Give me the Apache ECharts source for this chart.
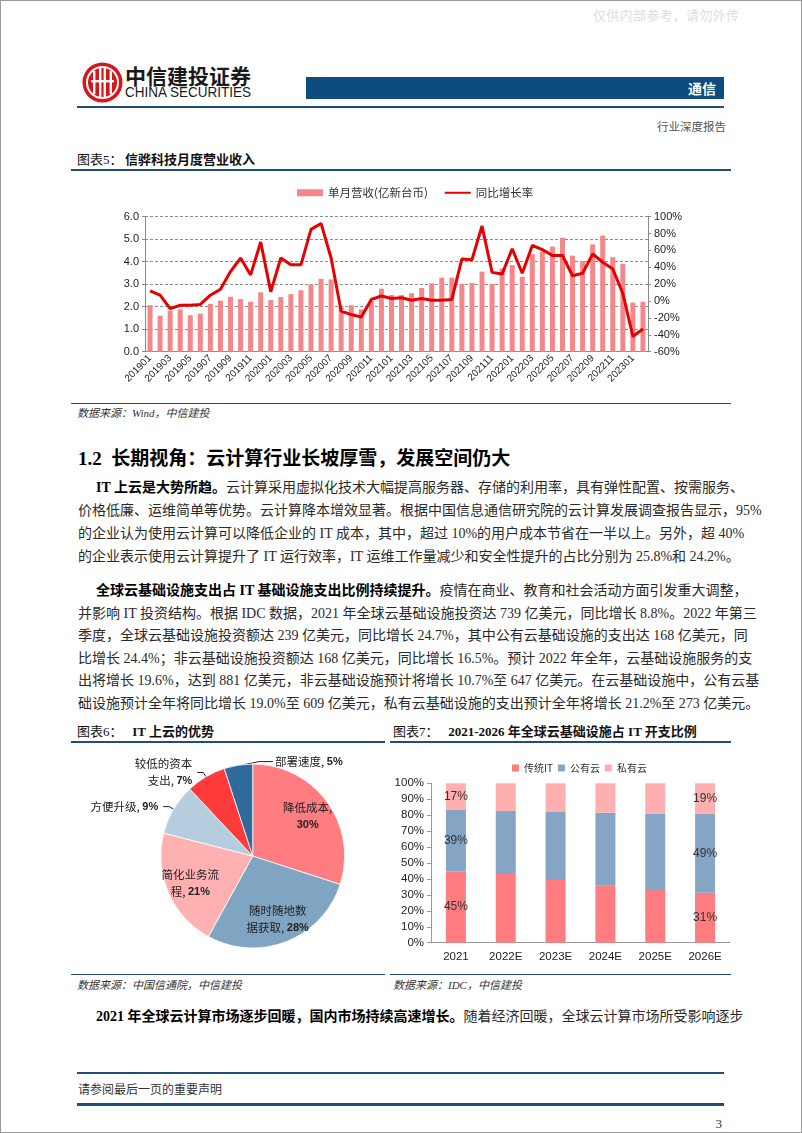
<!DOCTYPE html>
<html>
<head>
<meta charset="utf-8">
<script src="https://cdn.jsdelivr.net/npm/echarts@6/dist/echarts.min.js"></script>
<style>
html,body{margin:0;padding:0;background:#fff;}
#page{position:relative;width:802px;height:1133px;overflow:hidden;background:#fff;font-family:"Liberation Serif","Noto Sans CJK SC",serif;color:#2a2a2a;}
.abs{position:absolute;white-space:nowrap;}
.frame{position:absolute;left:0;top:0;width:802px;height:1133px;box-sizing:border-box;border:1px solid #9a9a9a;z-index:5;pointer-events:none;}
.hl{position:absolute;background:#1f4e79;}
.tl{position:absolute;font-size:13px;line-height:14px;font-weight:bold;color:#111;font-family:"Liberation Serif","Noto Sans CJK SC",serif;}
.tl span{font-weight:normal;}
.src{position:absolute;font-size:11px;line-height:12px;font-style:italic;color:#333;font-family:"Liberation Serif","Noto Sans CJK SC",serif;}
.ln{position:absolute;left:78px;width:644px;font-size:14px;line-height:16px;height:16px;text-align:justify;text-align-last:justify;white-space:nowrap;color:#2a2a2a;}
.ln.first{left:96px;width:626px;}
.ln.last{text-align-last:left;}
.ln b{color:#000;}
#chart{position:absolute;left:0;top:0;width:802px;height:1133px;z-index:3;}
</style>
</head>
<body>
<div id="page">
  <div class="abs" style="left:593px;top:9px;font-size:13px;line-height:14px;color:#dedede;letter-spacing:0.3px;">仅供内部参考，请勿外传</div>

  <svg class="abs" style="left:82px;top:62px;" width="41" height="41" viewBox="0 0 41 41">
    <circle cx="20.5" cy="20.5" r="20" fill="#d7161c"/>
    <circle cx="20.5" cy="20.5" r="15.5" fill="none" stroke="#fff" stroke-width="2"/>
    <rect x="11" y="9" width="2.4" height="23" fill="#fff"/>
    <rect x="17" y="6" width="2.4" height="29" fill="#fff"/>
    <rect x="21.6" y="6" width="2.4" height="29" fill="#fff"/>
    <rect x="27.6" y="9" width="2.4" height="23" fill="#fff"/>
    <rect x="9" y="18" width="23" height="2.4" fill="#fff"/>
  </svg>
  <div class="abs" style="left:125px;top:64px;font-size:21px;line-height:22px;font-weight:bold;color:#1a1a1a;font-family:'Noto Sans CJK SC',sans-serif;">中信建投证券</div>
  <div class="abs" style="left:125px;top:84px;font-size:15px;line-height:16px;color:#1a1a1a;font-family:'Liberation Sans',sans-serif;transform:scaleX(0.9);transform-origin:0 0;">CHINA SECURITIES</div>

  <div class="abs" style="left:306px;top:77px;width:418px;height:22px;background:#0e4c7e;"></div>
  <div class="abs" style="left:600px;top:80px;width:116px;text-align:right;font-size:14px;line-height:16px;font-weight:bold;color:#fff;font-family:'Noto Sans CJK SC',sans-serif;">通信</div>
  <div class="hl" style="left:77px;top:106px;width:647px;height:1.5px;"></div>
  <div class="abs" style="left:657px;top:121px;font-size:11.5px;line-height:12px;color:#555;">行业深度报告</div>

  <div class="tl" style="left:77px;top:153px;"><span>图表5：</span></div>
  <div class="tl" style="left:125px;top:153px;">信骅科技月度营业收入</div>
  <div class="hl" style="left:71px;top:169px;width:660px;height:2px;"></div>
  <div class="hl" style="left:71px;top:403px;width:660px;height:1px;"></div>
  <div class="src" style="left:77px;top:407px;">数据来源：Wind，中信建投</div>

  <div class="abs" style="left:78px;top:449px;font-size:19px;line-height:20px;font-weight:bold;color:#000;">1.2&nbsp; 长期视角：云计算行业长坡厚雪，发展空间仍大</div>

  <div class="ln first" style="top:480px;"><b>IT 上云是大势所趋。</b>云计算采用虚拟化技术大幅提高服务器、存储的利用率，具有弹性配置、按需服务、</div>
  <div class="ln" style="top:503px;">价格低廉、运维简单等优势。云计算降本增效显著。根据中国信息通信研究院的云计算发展调查报告显示，95%</div>
  <div class="ln" style="top:526px;">的企业认为使用云计算可以降低企业的 IT 成本，其中，超过 10%的用户成本节省在一半以上。另外，超 40%</div>
  <div class="ln last" style="top:549px;">的企业表示使用云计算提升了 IT 运行效率，IT 运维工作量减少和安全性提升的占比分别为 25.8%和 24.2%。</div>

  <div class="ln first" style="top:583px;"><b>全球云基础设施支出占 IT 基础设施支出比例持续提升。</b>疫情在商业、教育和社会活动方面引发重大调整，</div>
  <div class="ln" style="top:605.5px;">并影响 IT 投资结构。根据 IDC 数据，2021 年全球云基础设施投资达 739 亿美元，同比增长 8.8%。2022 年第三</div>
  <div class="ln" style="top:628px;">季度，全球云基础设施投资额达 239 亿美元，同比增长 24.7%，其中公有云基础设施的支出达 168 亿美元，同</div>
  <div class="ln" style="top:650.5px;">比增长 24.4%；非云基础设施投资额达 168 亿美元，同比增长 16.5%。预计 2022 年全年，云基础设施服务的支</div>
  <div class="ln" style="top:673px;">出将增长 19.6%，达到 881 亿美元，非云基础设施预计将增长 10.7%至 647 亿美元。在云基础设施中，公有云基</div>
  <div class="ln last" style="top:695.5px;">础设施预计全年将同比增长 19.0%至 609 亿美元，私有云基础设施的支出预计全年将增长 21.2%至 273 亿美元。</div>

  <div class="tl" style="left:77px;top:725px;"><span>图表6：</span>&nbsp;&nbsp; IT 上云的优势</div>
  <div class="tl" style="left:393px;top:725px;"><span>图表7：</span>&nbsp;&nbsp; 2021-2026 年全球云基础设施占 IT 开支比例</div>
  <div class="hl" style="left:71px;top:741px;width:314px;height:2px;"></div>
  <div class="hl" style="left:390px;top:741px;width:341px;height:2px;"></div>
  <div class="hl" style="left:71px;top:974px;width:314px;height:1px;"></div>
  <div class="hl" style="left:390px;top:974px;width:341px;height:1px;"></div>
  <div class="src" style="left:77px;top:979px;">数据来源：中国信通院，中信建投</div>
  <div class="src" style="left:393px;top:979px;">数据来源：IDC，中信建投</div>

  <div class="ln first" style="top:1009px;"><b>2021 年全球云计算市场逐步回暖，国内市场持续高速增长。</b>随着经济回暖，全球云计算市场所受影响逐步</div>

  <div class="hl" style="left:77px;top:1072px;width:647px;height:1.5px;"></div>
  <div class="abs" style="left:78px;top:1084px;font-size:12px;line-height:13px;color:#333;">请参阅最后一页的重要声明</div>
  <div class="hl" style="left:77px;top:1103px;width:647px;height:3px;"></div>
  <div class="abs" style="left:700px;top:1117px;width:22px;text-align:right;font-size:13px;line-height:14px;color:#333;">3</div>

  <div id="chart"></div>
  <div class="frame"></div>
</div>
<script>
// ---- Chart 5: monthly revenue & YoY ----
const months = ['201901','201902','201903','201904','201905','201906','201907','201908','201909','201910','201911','201912',
  '202001','202002','202003','202004','202005','202006','202007','202008','202009','202010','202011','202012',
  '202101','202102','202103','202104','202105','202106','202107','202108','202109','202110','202111','202112',
  '202201','202202','202203','202204','202205','202206','202207','202208','202209','202210','202211','202212',
  '202301','202302'];
const revenue = [2.07,1.60,1.83,1.88,1.62,1.69,2.12,2.27,2.44,2.34,2.22,2.64,
  2.30,2.43,2.56,2.73,3.00,3.24,3.21,2.00,2.07,1.88,2.25,2.80,
  2.52,2.52,2.60,2.83,3.04,3.29,3.29,3.02,3.05,3.56,3.02,3.70,
  3.85,3.33,4.33,4.45,4.67,5.07,4.27,4.03,4.77,5.16,4.20,3.91,
  2.18,2.22];
const yoy = [12,7,-9,-5,-5,-4,7,14,35,51,31,70,
  11,51,43,43,85,92,51,-12,-16,-19,2,6,
  3,4,1,3,1,1,2,50,49,89,34,32,
  62,33,66,61,54,54,30,33,56,46,38,9,
  -42,-33];
const revName = '单月营收(亿新台币)';
const yoyName = '同比增长率';

// ---- Chart 6: advantages of IT on cloud ----
const pieNames = ['降低成本','随时随地数据获取','简化业务流程','方便升级','较低的资本支出','部署速度'];
const pieValues = [30,28,21,9,7,5];
const pieColors = ['#FF7C80','#7FA5C3','#FFB1B1','#B6CCDF','#FF3A3A','#2F6A9A'];
const pieInside = [true,true,true,false,false,false];

// ---- Chart 7: share of IT spending ----
const years = ['2021','2022E','2023E','2024E','2025E','2026E'];
const traditionalIT = [44.6,43.1,39.3,35.8,33.0,31.4];
const publicCloud = [38.6,39.5,42.7,45.8,47.8,49.3];
const privateCloud = [16.8,17.4,18.0,18.4,19.2,19.3];
const stackNames = ['传统IT','公有云','私有云'];
const stackColors = ['#FF7C80','#84A6C4','#FFAFAF'];
const labelledYears = [0,5];

const SANS = 'Liberation Sans';
const CJK = 'Noto Sans CJK SC';

function pieLabel(name, pct, inside){
  if (name.length > 5) return '{n|' + name.slice(0,5) + '}\n{n|' + name.slice(5) + ', }{p|' + pct + '%}';
  if (inside) return '{n|' + name + ',}\n{p|' + pct + '%}';
  return '{n|' + name + ', }{p|' + pct + '%}';
}
const pieRich = {
  n:{fontFamily:CJK,fontSize:11.5,color:'#222',lineHeight:17},
  p:{fontFamily:SANS,fontSize:11,fontWeight:'bold',color:'#222',lineHeight:17}
};

const pieData = pieNames.map((n,i)=>({
  name:n, value:pieValues[i], itemStyle:{color:pieColors[i]},
  label:{show:!pieInside[i]}, labelLine:{show:!pieInside[i]}
}));
const pieLabelData = pieNames.map((n,i)=>({
  name:n, value:pieValues[i], label:{show:pieInside[i]}
}));

function stackSeries(vals, idx){
  return {
    name:stackNames[idx], type:'bar', stack:'all', xAxisIndex:1, yAxisIndex:2,
    barWidth:20, itemStyle:{color:stackColors[idx]},
    data: vals.map((v,i)=>({value:v, label:{show: labelledYears.indexOf(i)>=0}})),
    label:{position:'inside',formatter:p=>Math.round(p.value)+'%',color:'#333',fontFamily:SANS,fontSize:12},
    emphasis:{disabled:true}
  };
}

// The smallest (last) slice sits just left of 12 o'clock; the reference puts its label to the right.
function pieLabelLayout(params){
  if (params.dataIndex === pieValues.length - 1) {
    const r = params.rect;
    const xr = r.x + r.width;
    return {
      x: xr + 22, y: r.y - 2, align:'left', verticalAlign:'middle',
      labelLinePoints:[[xr - r.width*0.3, r.y + 1],[xr + 6, r.y - 2],[xr + 20, r.y - 2]]
    };
  }
}

const chart = echarts.init(document.getElementById('chart'), null, {renderer:'canvas'});
chart.setOption({
  animation:false,
  backgroundColor:'transparent',
  legend:[
    {data:[{name:revName,icon:'rect'},{name:yoyName,itemStyle:{opacity:0}}], left:292, top:182, itemWidth:26, itemHeight:7, itemGap:16,
     textStyle:{fontFamily:CJK,fontSize:11.5,color:'#333'}},
    {data:stackNames.map(n=>({name:n,icon:'rect'})), left:507, top:758, itemWidth:7, itemHeight:7, itemGap:5,
     textStyle:{fontFamily:CJK,fontSize:10,color:'#333'}}
  ],
  grid:[
    {left:145, top:216.7, width:503, height:135},
    {left:431, top:783.3, width:299, height:159.4}
  ],
  xAxis:[
    {type:'category', gridIndex:0, data:months, boundaryGap:true,
     axisLine:{lineStyle:{color:'#8a8a8a'}},
     axisTick:{interval:0, length:3, lineStyle:{color:'#8a8a8a'}},
     axisLabel:{interval:1, rotate:45, fontFamily:SANS, fontSize:10, color:'#222', margin:5}},
    {type:'category', gridIndex:1, data:years, boundaryGap:true,
     axisLine:{lineStyle:{color:'#9a9a9a'}},
     axisTick:{interval:0, length:4, lineStyle:{color:'#9a9a9a'}},
     axisLabel:{fontFamily:SANS, fontSize:11.5, color:'#222', margin:8}}
  ],
  yAxis:[
    {type:'value', gridIndex:0, min:0, max:6, interval:1, position:'left',
     axisLine:{show:true, lineStyle:{color:'#8a8a8a'}},
     axisTick:{show:true, length:3, lineStyle:{color:'#8a8a8a'}},
     axisLabel:{formatter:v=>v.toFixed(1), fontFamily:SANS, fontSize:11, color:'#222', margin:6},
     splitLine:{show:true, lineStyle:{color:'#8c8c8c', type:[3,2], width:1}}},
    {type:'value', gridIndex:0, min:-60, max:100, interval:20, position:'right',
     axisLine:{show:true, lineStyle:{color:'#8a8a8a'}},
     axisTick:{show:true, length:3, lineStyle:{color:'#8a8a8a'}},
     axisLabel:{formatter:v=>v+'%', fontFamily:SANS, fontSize:11, color:'#222', margin:6},
     splitLine:{show:false}},
    {type:'value', gridIndex:1, min:0, max:100, interval:10,
     axisLine:{show:true, lineStyle:{color:'#9a9a9a'}},
     axisTick:{show:true, length:4, lineStyle:{color:'#9a9a9a'}},
     axisLabel:{formatter:v=>v+'%', fontFamily:SANS, fontSize:11.5, color:'#222', margin:7},
     splitLine:{show:false}}
  ],
  series:[
    {name:revName, type:'bar', xAxisIndex:0, yAxisIndex:0, data:revenue, barWidth:5,
     itemStyle:{color:'#F4878A'}, emphasis:{disabled:true}},
    {name:yoyName, type:'line', xAxisIndex:0, yAxisIndex:1, data:yoy, symbol:'none', showSymbol:false,
     lineStyle:{color:'#E60000', width:3}, itemStyle:{color:'#E60000'}, z:5, emphasis:{disabled:true}},
    stackSeries(traditionalIT,0),
    stackSeries(publicCloud,1),
    stackSeries(privateCloud,2),
    {type:'pie', center:[252.7,856], radius:92, startAngle:90, clockwise:true,
     avoidLabelOverlap:false, data:pieData,
     itemStyle:{borderColor:'#fff', borderWidth:0.8},
     label:{position:'outside', formatter:p=>pieLabel(p.name,p.value,false), rich:pieRich, align:'center'},
     labelLine:{length:5, length2:6, lineStyle:{color:'#222', width:1}},
     labelLayout:pieLabelLayout,
     emphasis:{disabled:true}},
    {type:'pie', center:[252.7,856], radius:130, startAngle:90, clockwise:true, silent:true,
     avoidLabelOverlap:false, data:pieLabelData,
     itemStyle:{color:'rgba(0,0,0,0)', borderWidth:0},
     label:{position:'inside', formatter:p=>pieLabel(p.name,p.value,true), rich:pieRich, align:'center'},
     labelLine:{show:false}, emphasis:{disabled:true}, tooltip:{show:false}}
  ]
});
</script>
</body>
</html>
